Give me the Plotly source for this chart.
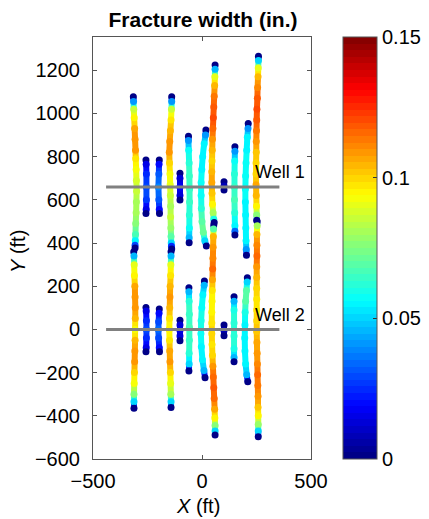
import plotly.graph_objects as go

# ---- wells (ft) ----
WELL_NAMES = ["Well 1", "Well 2"]
WELL_Y = [660, 0]
WELL_X_START = -440
WELL_X_END = 355
WELL_LABEL_X = [232, 232]
WELL_LABEL_Y = [731, 67]

# ---- fracture traces: (y ft, x ft, width in.) from tip to tip ----
W1_A = [(1077, -315, 0.0), (1055, -314, 0.04), (1020, -313, 0.085), (980, -311, 0.095),
        (930, -309, 0.106), (880, -307, 0.11), (830, -305, 0.108), (790, -304, 0.098),
        (740, -302, 0.092), (690, -301, 0.088), (640, -300, 0.085), (590, -301, 0.082),
        (540, -302, 0.08), (490, -304, 0.075), (440, -305, 0.066), (410, -306, 0.055),
        (390, -307, 0.03), (377, -307, 0.0)]
W1_B = [(784, -257, 0.0), (765, -256, 0.015), (720, -255, 0.025), (660, -255, 0.03),
        (600, -255, 0.027), (555, -256, 0.015), (537, -257, 0.0)]
W1_C = [(784, -196, 0.0), (765, -197, 0.02), (720, -198, 0.032), (660, -200, 0.038),
        (600, -198, 0.032), (555, -196, 0.02), (537, -195, 0.0)]
W1_D = [(1077, -139, 0.0), (1055, -139, 0.04), (1020, -140, 0.085), (970, -142, 0.098),
        (920, -145, 0.104), (870, -148, 0.108), (820, -150, 0.11), (770, -149, 0.1),
        (720, -147, 0.093), (670, -146, 0.09), (620, -145, 0.085), (570, -144, 0.082),
        (520, -144, 0.085), (470, -143, 0.078), (430, -142, 0.068), (400, -141, 0.05),
        (385, -140, 0.025), (372, -139, 0.0)]
W1_E = [(723, -101, 0.0), (700, -101, 0.012), (660, -101, 0.018), (620, -101, 0.012),
        (599, -101, 0.0)]
W1_F = [(895, -62, 0.0), (875, -62, 0.04), (830, -61, 0.058), (770, -59, 0.062),
        (710, -58, 0.065), (650, -57, 0.065), (590, -57, 0.064), (530, -58, 0.062),
        (470, -58, 0.058), (425, -59, 0.045), (401, -59, 0.0)]
W1_G = [(923, 18, 0.0), (900, 16, 0.04), (860, 10, 0.055), (800, 3, 0.055),
        (740, -1, 0.056), (680, -4, 0.057), (620, -4, 0.058), (560, -3, 0.062),
        (500, 0, 0.07), (450, 6, 0.072), (410, 13, 0.05), (386, 20, 0.0)]
W1_H = [(1224, 60, 0.0), (1205, 60, 0.045), (1170, 59, 0.09), (1130, 58, 0.105),
        (1080, 56, 0.113), (1030, 54, 0.119), (980, 52, 0.12), (930, 50, 0.116),
        (880, 48, 0.11), (830, 47, 0.104), (780, 46, 0.1), (730, 45, 0.105),
        (680, 45, 0.106), (630, 46, 0.102), (580, 48, 0.095), (540, 51, 0.082),
        (510, 54, 0.06), (495, 56, 0.0)]
W1_I = [(684, 101, 0.0), (664, 101, 0.008), (645, 101, 0.0)]
W1_J = [(846, 151, 0.0), (825, 151, 0.04), (780, 150, 0.058), (720, 149, 0.062),
        (660, 149, 0.064), (600, 149, 0.066), (540, 150, 0.062), (480, 151, 0.055),
        (455, 151, 0.035), (437, 151, 0.0)]
W1_K = [(954, 212, 0.0), (930, 211, 0.04), (890, 208, 0.055), (830, 205, 0.056),
        (770, 202, 0.058), (710, 200, 0.058), (650, 199, 0.057), (590, 199, 0.056),
        (530, 200, 0.056), (470, 201, 0.056), (410, 202, 0.055), (370, 203, 0.04),
        (344, 204, 0.0)]
W1_L = [(1265, 259, 0.0), (1245, 259, 0.05), (1210, 258, 0.09), (1170, 257, 0.104),
        (1120, 255, 0.112), (1070, 254, 0.118), (1020, 252, 0.121), (970, 251, 0.118),
        (920, 250, 0.113), (870, 249, 0.108), (820, 249, 0.103), (770, 248, 0.1),
        (720, 248, 0.1), (670, 248, 0.106), (620, 249, 0.104), (570, 250, 0.095),
        (530, 251, 0.075), (505, 251, 0.0)]

W2_A = [(360, -313, 0.0), (340, -312, 0.045), (300, -311, 0.09), (250, -310, 0.095),
        (200, -308, 0.106), (150, -307, 0.11), (100, -306, 0.108), (50, -306, 0.104),
        (0, -307, 0.092), (-50, -307, 0.104), (-100, -308, 0.11), (-150, -309, 0.108),
        (-200, -310, 0.1), (-250, -311, 0.092), (-300, -312, 0.075), (-335, -312, 0.05),
        (-365, -312, 0.0)]
W2_B = [(101, -257, 0.0), (85, -256, 0.015), (40, -255, 0.025), (0, -255, 0.03),
        (-40, -255, 0.025), (-85, -256, 0.015), (-103, -257, 0.0)]
W2_C = [(94, -196, 0.0), (75, -197, 0.02), (35, -199, 0.03), (0, -200, 0.035),
        (-40, -199, 0.03), (-85, -196, 0.02), (-103, -195, 0.0)]
W2_D = [(360, -142, 0.0), (340, -142, 0.045), (300, -143, 0.09), (250, -144, 0.098),
        (200, -146, 0.104), (150, -147, 0.108), (100, -148, 0.104), (50, -149, 0.098),
        (0, -150, 0.094), (-50, -149, 0.098), (-100, -148, 0.106), (-150, -147, 0.108),
        (-200, -145, 0.1), (-250, -144, 0.09), (-300, -143, 0.08), (-335, -142, 0.05),
        (-361, -142, 0.0)]
W2_E = [(43, -101, 0.0), (20, -101, 0.012), (-5, -101, 0.015), (-30, -101, 0.012),
        (-52, -101, 0.0)]
W2_F = [(193, -60, 0.0), (175, -60, 0.045), (130, -59, 0.062), (70, -58, 0.065),
        (10, -58, 0.066), (-50, -58, 0.065), (-110, -59, 0.062), (-160, -59, 0.05),
        (-193, -60, 0.0)]
W2_G = [(224, 11, 0.0), (205, 10, 0.045), (160, 4, 0.055), (100, -1, 0.058),
        (40, -4, 0.06), (-20, -5, 0.058), (-80, -3, 0.056), (-140, 2, 0.055),
        (-190, 9, 0.045), (-224, 14, 0.0)]
W2_H = [(483, 54, 0.0), (465, 53, 0.07), (430, 52, 0.104), (380, 51, 0.11),
        (330, 50, 0.112), (280, 49, 0.115), (230, 48, 0.106), (180, 47, 0.098),
        (130, 46, 0.094), (80, 45, 0.095), (30, 45, 0.098), (-20, 45, 0.1),
        (-70, 46, 0.098), (-120, 48, 0.1), (-170, 50, 0.11), (-220, 52, 0.116),
        (-270, 54, 0.118), (-320, 56, 0.115), (-370, 58, 0.106), (-410, 59, 0.095),
        (-445, 60, 0.075), (-470, 60, 0.05), (-489, 60, 0.0)]
W2_I = [(20, 101, 0.0), (-5, 101, 0.008), (-29, 101, 0.0)]
W2_J = [(151, 147, 0.0), (130, 147, 0.045), (90, 147, 0.06), (30, 147, 0.062),
        (-30, 147, 0.062), (-90, 147, 0.06), (-130, 147, 0.045), (-150, 147, 0.0)]
W2_K = [(239, 208, 0.0), (220, 207, 0.05), (180, 204, 0.07), (130, 200, 0.068),
        (80, 198, 0.06), (20, 197, 0.056), (-40, 196, 0.055), (-100, 197, 0.055),
        (-160, 200, 0.055), (-210, 205, 0.045), (-242, 210, 0.0)]
W2_L = [(499, 253, 0.0), (480, 253, 0.08), (440, 252, 0.104), (390, 252, 0.112),
        (340, 252, 0.115), (290, 251, 0.11), (240, 251, 0.105), (190, 251, 0.1),
        (140, 251, 0.097), (90, 251, 0.098), (40, 251, 0.1), (-10, 251, 0.103),
        (-60, 252, 0.106), (-110, 253, 0.108), (-160, 254, 0.112), (-210, 255, 0.115),
        (-260, 256, 0.114), (-310, 257, 0.11), (-360, 257, 0.102), (-400, 258, 0.094),
        (-440, 258, 0.078), (-470, 258, 0.05), (-497, 258, 0.0)]

FRACTURES = [W1_A, W1_B, W1_C, W1_D, W1_E, W1_F, W1_G, W1_H, W1_I, W1_J, W1_K, W1_L,
             W2_A, W2_B, W2_C, W2_D, W2_E, W2_F, W2_G, W2_H, W2_I, W2_J, W2_K, W2_L]

WIDTH_MIN, WIDTH_MAX = 0.0, 0.15
CBAR_TICKS = [0, 0.05, 0.1, 0.15]
CBAR_TEXT = ["0", "0.05", "0.1", "0.15"]
X_TICKS = [-500, 0, 500]
Y_TICKS = list(range(-600, 1201, 200))

FONT = "Liberation Sans, Arial, Helvetica, sans-serif"

# figure / plot-area geometry in pixels
FIG_W, FIG_H = 429, 519
M_L, M_R, M_T, M_B = 93, 118, 37, 60
PLOT_W = FIG_W - M_L - M_R
PLOT_H = FIG_H - M_T - M_B


# 64-level jet colour map
def _jet(t):
    r = min(max(1.5 - abs(4 * t - 3), 0), 1)
    g = min(max(1.5 - abs(4 * t - 2), 0), 1)
    b = min(max(1.5 - abs(4 * t - 1), 0), 1)
    return f"rgb({round(r * 255)},{round(g * 255)},{round(b * 255)})"


N_LEVELS = 64
LEVEL_COLORS = [_jet((k + 0.5) / N_LEVELS) for k in range(N_LEVELS)]
JET = []
for k, c in enumerate(LEVEL_COLORS):
    JET.append([k / N_LEVELS, c])
    JET.append([(k + 1) / N_LEVELS, c])


def level_color(w):
    t = (w - WIDTH_MIN) / (WIDTH_MAX - WIDTH_MIN)
    k = min(max(int(t * N_LEVELS), 0), N_LEVELS - 1)
    return LEVEL_COLORS[k]


fig = go.Figure()

# fracture bodies: one short line per pair of neighbouring nodes
for frac in FRACTURES:
    for (y0, x0, w0), (y1, x1, w1) in zip(frac[:-1], frac[1:]):
        fig.add_trace(go.Scatter(x=[x0, x1], y=[y0, y1], mode="lines",
                                 line=dict(color=level_color((w0 + w1) / 2), width=6),
                                 hoverinfo="skip", showlegend=False))

# fracture nodes, coloured by width (carries the colour bar)
node_x = [p[1] for f in FRACTURES for p in f]
node_y = [p[0] for f in FRACTURES for p in f]
node_w = [p[2] for f in FRACTURES for p in f]
fig.add_trace(go.Scatter(
    x=node_x, y=node_y, mode="markers", showlegend=False,
    marker=dict(size=7, color=node_w, colorscale=JET, cmin=WIDTH_MIN, cmax=WIDTH_MAX,
                line=dict(width=0),
                colorbar=dict(x=(343 - M_L) / PLOT_W, xanchor="left", y=0.5,
                              yanchor="middle", len=1, lenmode="fraction", thickness=34,
                              xpad=0, ypad=0, outlinewidth=1, outlinecolor="#555",
                              tickvals=CBAR_TICKS, ticktext=CBAR_TEXT,
                              ticks="inside", ticklen=4, tickcolor="#333",
                              tickfont=dict(size=20, color="black", family=FONT))),
    hovertemplate="x=%{x} ft<br>y=%{y} ft<br>w=%{marker.color} in.<extra></extra>"))

# wells
for name, wy in zip(WELL_NAMES, WELL_Y):
    fig.add_trace(go.Scatter(x=[WELL_X_START, WELL_X_END], y=[wy, wy], mode="lines",
                             line=dict(color="rgb(128,128,128)", width=3),
                             name=name, showlegend=False, hoverinfo="name"))
for name, lx, ly in zip(WELL_NAMES, WELL_LABEL_X, WELL_LABEL_Y):
    fig.add_annotation(x=lx, y=ly, text=name, showarrow=False, xanchor="left",
                       yanchor="middle", font=dict(size=18, color="black", family=FONT))

# axis titles placed in paper coordinates
fig.add_annotation(xref="paper", yref="paper", x=(198 - M_L) / PLOT_W,
                   y=-(506 - M_T - PLOT_H) / PLOT_H, text="<i>X</i> (ft)",
                   showarrow=False, xanchor="center", yanchor="middle",
                   font=dict(size=20, color="black", family=FONT))
fig.add_annotation(xref="paper", yref="paper", x=-(M_L - 18) / PLOT_W,
                   y=1 - (252 - M_T) / PLOT_H, text="<i>Y</i> (ft)", textangle=-90,
                   showarrow=False, xanchor="center", yanchor="middle",
                   font=dict(size=20, color="black", family=FONT))

axis_common = dict(showline=True, linecolor="#555", linewidth=1, mirror="ticks",
                   ticks="inside", ticklen=4, tickcolor="#555", showgrid=False,
                   zeroline=False, automargin=False,
                   tickfont=dict(size=20, color="black", family=FONT))

fig.update_xaxes(range=[-500, 500], tickvals=X_TICKS, ticklabelstandoff=4, **axis_common)
fig.update_yaxes(range=[-600, 1354], tickvals=Y_TICKS, ticklabelstandoff=8, **axis_common)

fig.update_layout(
    width=FIG_W, height=FIG_H,
    margin=dict(l=M_L, r=M_R, t=M_T, b=M_B, autoexpand=False),
    paper_bgcolor="white", plot_bgcolor="white",
    title=dict(text="<b>Fracture width (in.)</b>", x=203 / FIG_W, xanchor="center",
               y=1 - 20 / FIG_H, yanchor="middle",
               font=dict(size=21, color="black", family=FONT)),
    font=dict(family=FONT, color="black"),
)

fig.write_html("out.html")
